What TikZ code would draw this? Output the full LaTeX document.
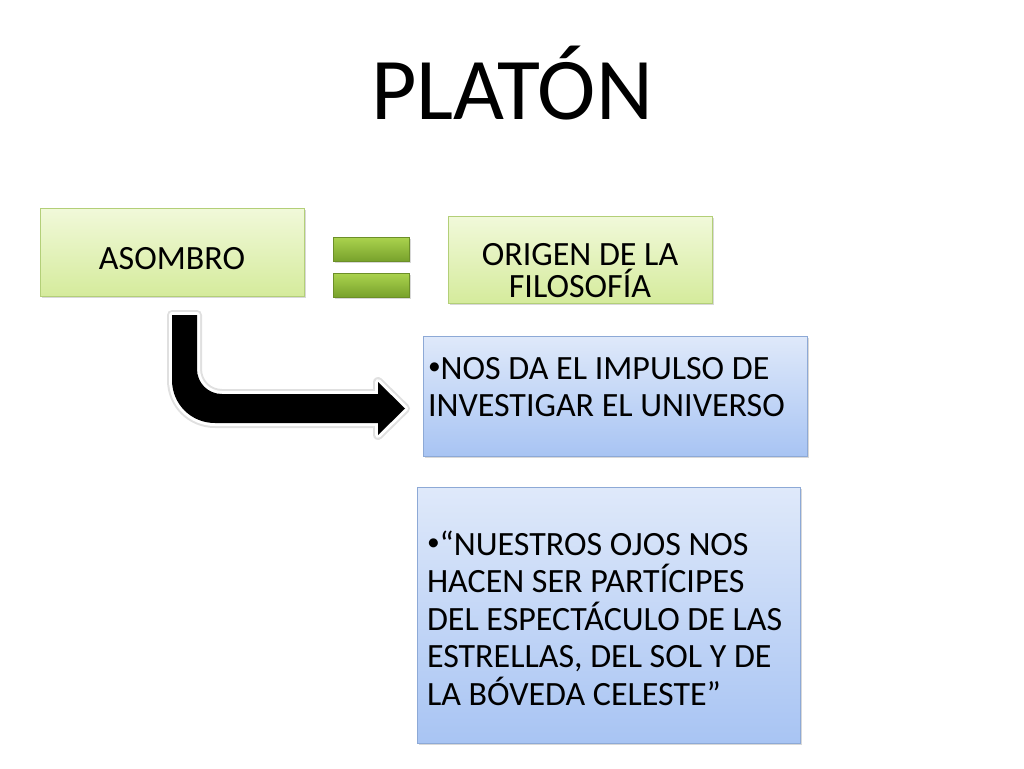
\documentclass[tikz,border=0pt]{standalone}
\usepackage{fontspec}
\setmainfont{Carlito}
\usetikzlibrary{shadows}
\definecolor{greentop}{HTML}{F1F9DA}
\definecolor{greenbot}{HTML}{D5EB9C}
\definecolor{greenline}{HTML}{B3CF78}
\definecolor{bartop}{HTML}{ABD34E}
\definecolor{barbot}{HTML}{78A22C}
\definecolor{barline}{HTML}{6C8F28}
\definecolor{bluetop}{HTML}{DFE9FA}
\definecolor{bluebot}{HTML}{A8C4F3}
\definecolor{blueline}{HTML}{8DA9D6}
\newcommand{\blt}{\raisebox{0.13em}{\scalebox{0.75}{•}}}
\begin{document}
\begin{tikzpicture}[x=1pt,y=-1pt,
        boxshadow/.style={drop shadow={shadow xshift=1.5pt,shadow yshift=-2pt,opacity=0.3}},
        greenbox/.style={draw=greenline,top color=greentop,bottom color=greenbot,boxshadow,
            inner sep=0pt,align=center,font=\fontsize{34}{32}\selectfont},
        bluebox/.style={draw=blueline,top color=bluetop,bottom color=bluebot,boxshadow,
            inner ysep=0pt,align=flush left,font=\fontsize{34}{37.5}\selectfont},
        eqbar/.style={draw=barline,top color=bartop,bottom color=barbot,boxshadow,
            minimum width=76pt,minimum height=24pt,inner sep=0pt}]
    \fill[white] (0,0) rectangle (1024,768);
    \node[anchor=base,font=\fontsize{88}{100}\selectfont] (title) at (512,119) {PLATÓN};
    \node[greenbox,minimum width=264pt,minimum height=88pt,text height=34pt,text depth=0pt] (asombro) at (172,252) {ASOMBRO};
    \node[eqbar] (bar1) at (371,249) {};
    \node[eqbar] (bar2) at (371,285) {};
    \node[greenbox,minimum width=264pt,minimum height=87pt,text height=75pt,text depth=0pt] (origen) at (580,259.5)
        {ORIGEN DE LA\\FILOSOFÍA};
    \node[bluebox,minimum width=384pt,minimum height=120pt,inner xsep=5pt,text width=374pt,
            text height=20pt,text depth=54pt] (impulso) at (615,396)
        {\blt NOS DA EL IMPULSO DE\\INVESTIGAR EL UNIVERSO};
    \node[bluebox,minimum width=383pt,minimum height=256pt,inner xsep=10pt,text width=363pt,
            text height=20pt,text depth=140pt] (cita) at (608.5,615)
        {\blt“NUESTROS OJOS NOS\\HACEN SER PARTÍCIPES\\DEL ESPECTÁCULO DE LAS\\ESTRELLAS, DEL SOL Y DE\\LA BÓVEDA CELESTE”};
    \path[fill=black,line join=round,
            preaction={draw=black,line width=10pt,opacity=0.12,line join=round},
            preaction={draw=white,line width=6pt,line join=round}]
        (172,315) -- (197,315) -- (197,369) .. controls (197,383) and (208,394) .. (222,394)
        -- (378,394) -- (378,382) -- (405,408.5) -- (378,435) -- (378,423) -- (215,423)
        .. controls (191,423) and (172,404) .. (172,380) -- cycle;
\end{tikzpicture}
\end{document}
